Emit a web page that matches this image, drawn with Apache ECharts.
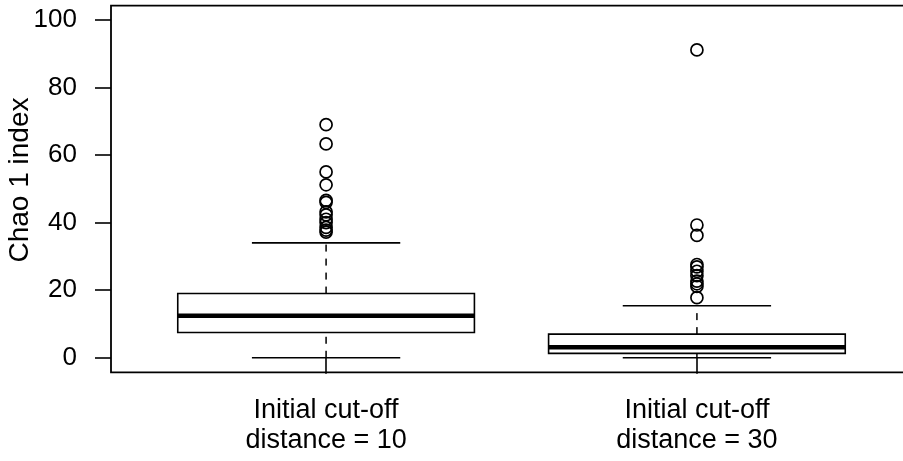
<!DOCTYPE html>
<html>
<head>
<meta charset="utf-8">
<script src="https://cdn.jsdelivr.net/npm/echarts@6/dist/echarts.min.js"></script>
<style>
  html, body { margin: 0; padding: 0; background: #fff; }
  #chart { width: 903px; height: 461px; }
</style>
</head>
<body>
<div id="chart"></div>
<script>
// Group labels and their positions on the x scale
const categories = ['Initial cut-off\ndistance = 10', 'Initial cut-off\ndistance = 30'];
const positions = [1, 2];

// Five-number summaries per group
const whiskerLow = [0, 0];
const q1 = [7.5, 1.3];
const medians = [12.4, 3.1];
const q3 = [19.0, 7.0];
const whiskerHigh = [34.0, 15.4];

// Points beyond the whiskers
const outliers10 = [69.0, 63.3, 55.0, 51.2, 46.6, 46.0, 43.2, 42.3, 41.0, 40.0, 38.6, 37.8, 37.2];
const outliers30 = [91.1, 39.3, 36.2, 27.6, 26.9, 25.6, 24.3, 22.7, 21.9, 21.1, 17.8];

// Axis ticks
const yTicks = [0, 20, 40, 60, 80, 100];

const FONT = 'Liberation Sans';
const BOX_WIDTH = 0.8;
const STAPLE_WIDTH = 0.4;

const boxData = positions.map((p, i) => [p, whiskerLow[i], q1[i], medians[i], q3[i], whiskerHigh[i]]);
const outlierData = [];
outliers10.forEach(v => outlierData.push([positions[0], v]));
outliers30.forEach(v => outlierData.push([positions[1], v]));

function renderBox(params, api) {
  const x = api.value(0);
  const lo = api.coord([x, api.value(1)]);
  const b1 = api.coord([x, api.value(2)]);
  const md = api.coord([x, api.value(3)]);
  const b3 = api.coord([x, api.value(4)]);
  const hi = api.coord([x, api.value(5)]);
  const halfBox = api.size([BOX_WIDTH, 0])[0] / 2;
  const halfStaple = api.size([STAPLE_WIDTH, 0])[0] / 2;
  const cx = lo[0];
  const black = '#000';
  const dashed = { stroke: black, lineWidth: 1.5, lineDash: [7, 7] };
  const solid = { stroke: black, lineWidth: 1.6 };
  return {
    type: 'group',
    children: [
      { type: 'line', shape: { x1: cx, y1: b3[1], x2: cx, y2: hi[1] }, style: dashed },
      { type: 'line', shape: { x1: cx, y1: lo[1], x2: cx, y2: b1[1] }, style: dashed },
      { type: 'line', shape: { x1: cx - halfStaple, y1: hi[1], x2: cx + halfStaple, y2: hi[1] }, style: solid },
      { type: 'line', shape: { x1: cx - halfStaple, y1: lo[1], x2: cx + halfStaple, y2: lo[1] }, style: solid },
      { type: 'rect', shape: { x: cx - halfBox, y: b3[1], width: halfBox * 2, height: b1[1] - b3[1] },
        style: { fill: '#fff', stroke: black, lineWidth: 1.6 } },
      { type: 'line', shape: { x1: cx - halfBox, y1: md[1], x2: cx + halfBox, y2: md[1] },
        style: { stroke: black, lineWidth: 4.5 } }
    ]
  };
}

const chart = echarts.init(document.getElementById('chart'), null, { renderer: 'canvas' });
chart.setOption({
  animation: false,
  backgroundColor: '#fff',
  grid: {
    show: true,
    left: 111, right: -9, top: 5.7, bottom: 88.7,
    containLabel: false,
    outerBoundsMode: 'none',
    borderColor: '#000', borderWidth: 1.8,
    backgroundColor: 'transparent'
  },
  xAxis: {
    type: 'value',
    min: 0.42, max: 2.58,
    splitLine: { show: false },
    axisLine: { show: false },
    axisTick: { show: true, length: 16, customValues: positions, lineStyle: { color: '#000', width: 1.6 } },
    axisLabel: {
      customValues: positions,
      formatter: v => categories[positions.indexOf(Math.round(v))] || '',
      margin: 23,
      fontFamily: FONT, fontSize: 27, lineHeight: 30, color: '#000', align: 'center'
    }
  },
  yAxis: {
    type: 'value',
    min: -4.3, max: 104.2,
    name: 'Chao 1 index',
    nameLocation: 'middle',
    nameRotate: 90,
    nameGap: 77,
    nameMoveOverlap: false,
    nameTextStyle: { fontFamily: FONT, fontSize: 28, color: '#000', padding: [0, 0, 0, 18] },
    splitLine: { show: false },
    axisLine: { show: false },
    axisTick: { show: true, length: 16, customValues: yTicks, lineStyle: { color: '#000', width: 1.6 } },
    axisLabel: {
      customValues: yTicks,
      margin: 34,
      fontFamily: FONT, fontSize: 26, color: '#000'
    }
  },
  series: [
    {
      type: 'custom',
      renderItem: renderBox,
      data: boxData,
      encode: { x: 0, y: [1, 2, 3, 4, 5] },
      clip: false,
      z: 2
    },
    {
      type: 'scatter',
      data: outlierData,
      symbol: 'circle',
      symbolSize: 12,
      itemStyle: { color: 'rgba(0,0,0,0)', borderColor: '#000', borderWidth: 1.7, opacity: 1 },
      z: 3
    }
  ]
});
</script>
</body>
</html>
